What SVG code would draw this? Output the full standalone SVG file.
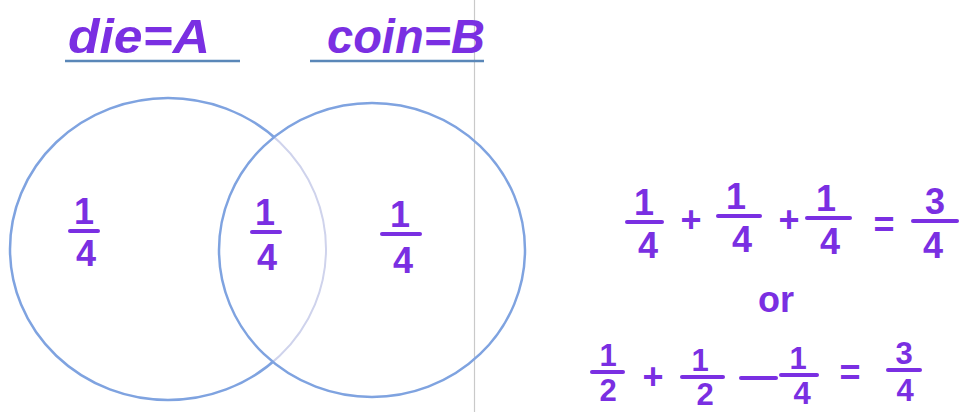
<svg xmlns="http://www.w3.org/2000/svg" width="970" height="412" viewBox="0 0 970 412">
<style>
.hw{font-family:"Liberation Sans","DejaVu Sans",sans-serif;fill:#7a2fe2;}
.dig{font-size:36px;text-anchor:middle;font-weight:bold;}
.sm{font-size:31px;}
.lbl{font-size:48px;font-style:italic;font-weight:bold;}
.bar{stroke:#7a2fe2;stroke-width:4;stroke-linecap:round;fill:none;}
.ul{stroke:#5a87b8;stroke-width:2.5;}
.circ{fill:none;stroke:#7fa3e0;stroke-width:2.5;}
</style>
<defs>
<clipPath id="inB"><ellipse cx="372" cy="250" rx="153" ry="147"/></clipPath>
</defs>
<rect width="970" height="412" fill="#fff"/>
<line x1="474.5" y1="0" x2="474.5" y2="412" stroke="#c9c9c9" stroke-width="1.2"/>
<g id="labelA">
<text class="hw lbl" x="68" y="53" textLength="142" lengthAdjust="spacingAndGlyphs">die=A</text>
<line class="ul" x1="65" y1="61" x2="240" y2="61"/>
</g>
<g id="labelB">
<text class="hw lbl" x="327" y="53" textLength="158" lengthAdjust="spacingAndGlyphs">coin=B</text>
<line class="ul" x1="310" y1="61" x2="484" y2="61"/>
</g>
<g id="circleA">
<ellipse class="circ" cx="168" cy="249" rx="158" ry="151"/>
<g clip-path="url(#inB)">
<ellipse cx="168" cy="249" rx="158" ry="151" fill="none" stroke="#fff" stroke-width="4"/>
<ellipse cx="168" cy="249" rx="158" ry="151" fill="none" stroke="#cfd3ec" stroke-width="2"/>
</g>
</g>
<g id="circleB">
<ellipse class="circ" cx="372" cy="250" rx="153" ry="147"/>
</g>
<g id="regionA">
<text class="hw dig" x="84" y="224">1</text><line class="bar" x1="70" y1="231" x2="98" y2="231"/><text class="hw dig" x="86" y="266">4</text>
</g>
<g id="regionAB">
<text class="hw dig" x="265" y="225">1</text><line class="bar" x1="252" y1="232" x2="280" y2="232"/><text class="hw dig" x="267" y="270">4</text>
</g>
<g id="regionB">
<text class="hw dig" x="400" y="227">1</text><line class="bar" x1="382" y1="234" x2="420" y2="234"/><text class="hw dig" x="403" y="273">4</text>
</g>
<g id="equation1">
<text class="hw dig" x="644" y="215">1</text><line class="bar" x1="627" y1="222" x2="662" y2="222"/><text class="hw dig" x="648" y="258">4</text>
<text class="hw dig" x="691" y="232">+</text>
<text class="hw dig" x="736" y="209">1</text><line class="bar" x1="718" y1="216" x2="760" y2="216"/><text class="hw dig" x="742" y="252">4</text>
<text class="hw dig" x="789" y="232">+</text>
<text class="hw dig" x="826" y="211">1</text><line class="bar" x1="807" y1="218" x2="850" y2="218"/><text class="hw dig" x="830" y="254">4</text>
<text class="hw dig" x="884" y="237">=</text>
<text class="hw dig" x="935" y="214">3</text><line class="bar" x1="913" y1="221" x2="957" y2="221"/><text class="hw dig" x="933" y="258">4</text>
</g>
<g id="or">
<text class="hw" x="776" y="312" font-size="36" font-weight="bold" text-anchor="middle">or</text>
</g>
<g id="equation2">
<text class="hw dig sm" x="608" y="366">1</text><line class="bar" x1="592" y1="372" x2="623" y2="372"/><text class="hw dig sm" x="608" y="401">2</text>
<text class="hw dig" x="653" y="389">+</text>
<text class="hw dig sm" x="700" y="371">1</text><line class="bar" x1="682" y1="377" x2="723" y2="377"/><text class="hw dig sm" x="705" y="405">2</text>
<line class="bar" x1="741" y1="378" x2="776" y2="378"/>
<text class="hw dig sm" x="798" y="369">1</text><line class="bar" x1="781" y1="375" x2="817" y2="375"/><text class="hw dig sm" x="802" y="404">4</text>
<text class="hw dig" x="850" y="385">=</text>
<text class="hw dig sm" x="904" y="364">3</text><line class="bar" x1="888" y1="370" x2="920" y2="370"/><text class="hw dig sm" x="905" y="401">4</text>
</g>
</svg>
